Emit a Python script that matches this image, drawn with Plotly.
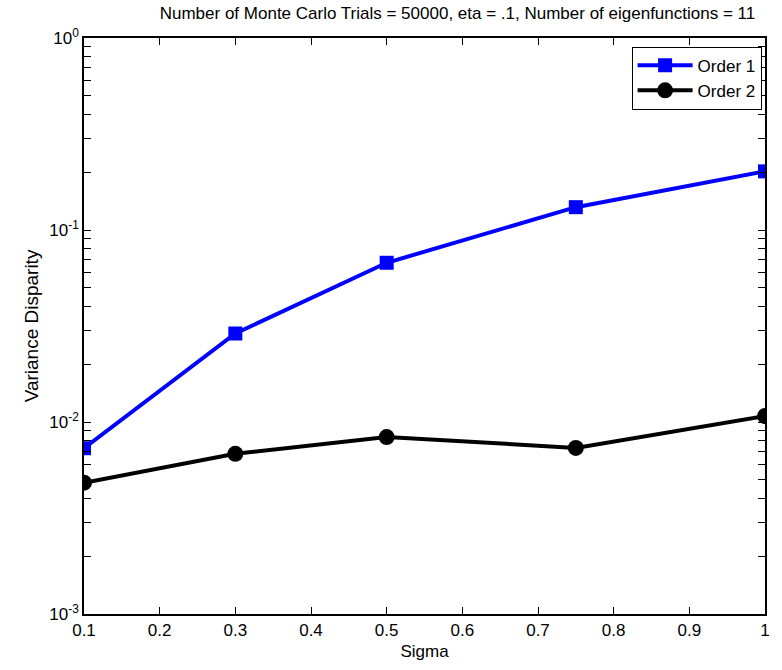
import plotly.graph_objects as go

# Sigma values and variance disparity for each expansion order
sigma = [0.1, 0.3, 0.5, 0.75, 1.0]
order1 = [0.0073, 0.0289, 0.0675, 0.1315, 0.202]
order2 = [0.00483, 0.00683, 0.00835, 0.00733, 0.01074]

x_ticks = [0.1, 0.2, 0.3, 0.4, 0.5, 0.6, 0.7, 0.8, 0.9, 1.0]
x_labels = ["0.1", "0.2", "0.3", "0.4", "0.5", "0.6", "0.7", "0.8", "0.9", "1"]

decades = [-3, -2, -1, 0]
y_ticks, y_labels = [], []
for d in decades:
    for m in range(1, 10):
        if d == 0 and m > 1:
            break
        y_ticks.append(m * 10.0 ** d)
        y_labels.append(f"10<sup>{d}</sup>" if m == 1 else "")

font = "Liberation Sans, Arial, sans-serif"

fig = go.Figure()
fig.add_trace(go.Scatter(
    x=sigma, y=order1, name="Order 1", mode="lines+markers",
    line=dict(color="#0000ff", width=4),
    marker=dict(symbol="square", size=14, color="#0000ff"),
))
fig.add_trace(go.Scatter(
    x=sigma, y=order2, name="Order 2", mode="lines+markers",
    line=dict(color="#000000", width=4),
    marker=dict(symbol="circle", size=16, color="#000000"),
))

fig.update_layout(
    width=782, height=670,
    margin=dict(l=84, r=12, t=38, b=52),
    paper_bgcolor="white", plot_bgcolor="white",
    font=dict(family=font, size=16, color="black"),
    title=dict(
        text="Number of Monte Carlo Trials = 50000, eta = .1, Number of eigenfunctions = 11",
        x=0.585, xanchor="center", y=0.99, yanchor="top",
        font=dict(size=17),
    ),
    showlegend=True,
    legend=dict(
        x=0.995, y=0.985, xanchor="right", yanchor="top",
        bgcolor="white", bordercolor="black", borderwidth=1,
        font=dict(size=17), tracegroupgap=0, itemwidth=55,
    ),
)
fig.update_xaxes(
    range=[0.1, 1.0], tickvals=x_ticks, ticktext=x_labels,
    ticks="inside", ticklen=7, tickcolor="black", mirror="allticks",
    showline=True, linecolor="black", linewidth=1.5, showgrid=False,
    zeroline=False, tickfont=dict(size=17),
    title=dict(text="Sigma", font=dict(size=17), standoff=6),
)
fig.update_yaxes(
    type="log", range=[-3, 0], tickvals=y_ticks, ticktext=y_labels,
    ticks="inside", ticklen=7, tickcolor="black", mirror="allticks",
    showline=True, linecolor="black", linewidth=1.5, showgrid=False,
    zeroline=False, tickfont=dict(size=17),
    title=dict(text="Variance Disparity", font=dict(size=19), standoff=6),
)

fig.write_html("out.html")
